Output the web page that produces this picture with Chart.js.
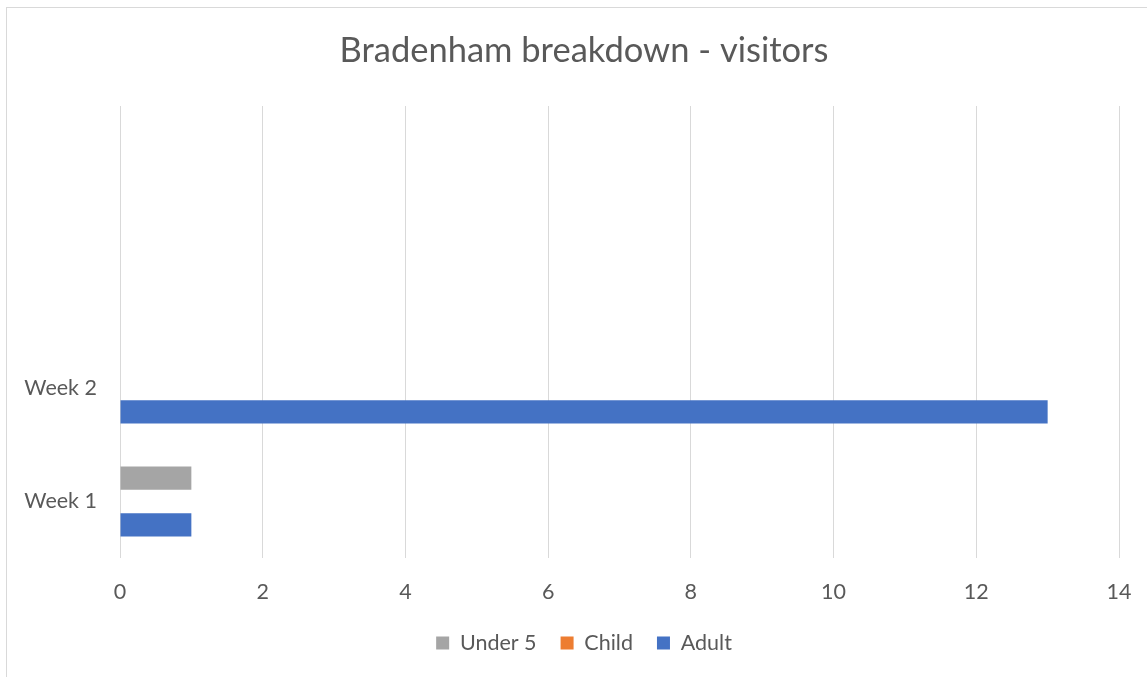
<!DOCTYPE html>
<html>
<head>
<meta charset="utf-8">
<script src="https://cdn.jsdelivr.net/npm/chart.js@4"></script>
<style>
  html, body { margin: 0; padding: 0; background: #fff; }
  #wrap { position: relative; width: 1147px; height: 677px; overflow: hidden; }
  #frame { position: absolute; left: 6px; top: 7px; width: 1200px; height: 700px;
           border-left: 1px solid #d9d9d9; border-top: 1px solid #d9d9d9; }
  canvas { position: absolute; left: 0; top: 0; }
</style>
</head>
<body>
<div id="wrap">
  <div id="frame"></div>
  <canvas id="visitorsChart" width="1168" height="677"></canvas>
</div>
<script>
// data
const weeks = ['Week 1', 'Week 2', '', ''];
const under5 = [1, 0, null, null];
const child = [0, 0, null, null];
const adult = [1, 13, null, null];
const xTicks = [0, 2, 4, 6, 8, 10, 12, 14];

const TEXT = '#595959';
const FONT = 'Lato, "Open Sans", sans-serif';

const data = {
    labels: weeks,
    datasets: [
        { label: 'Under 5', data: under5, backgroundColor: '#a5a5a5' },
        { label: 'Child', data: child, backgroundColor: '#ed7d31' },
        { label: 'Adult', data: adult, backgroundColor: '#4472c4' }
    ]
};

const config = {
    type: 'bar',
    data: data,
    options: {
        indexAxis: 'y',
        responsive: false,
        animation: false,
        datasets: {
            bar: {
                categoryPercentage: 0.62,
                barPercentage: 1.0,
                borderWidth: 0
            }
        },
        layout: {
            padding: { left: 0, right: 0, top: 0, bottom: 13.25 }
        },
        scales: {
            x: {
                min: xTicks[0],
                max: xTicks[xTicks.length - 1],
                afterBuildTicks: (scale) => {
                    scale.ticks = xTicks.map(v => ({ value: v }));
                },
                afterFit: (scale) => { scale.height = 50.25; },
                grid: { color: '#d9d9d9', lineWidth: 1, drawTicks: false },
                border: { display: false },
                ticks: {
                    padding: 21,
                    color: TEXT,
                    font: { family: FONT, size: 21.5 }
                }
            },
            y: {
                reverse: true,
                afterFit: (scale) => { scale.width = 120; },
                grid: { display: false, drawTicks: false },
                border: { display: false },
                ticks: {
                    padding: 23,
                    color: TEXT,
                    font: { family: FONT, size: 21.5 }
                }
            },
            // empty right-hand spacer so the plot ends where the reference does
            yRight: {
                type: 'linear',
                position: 'right',
                afterFit: (scale) => { scale.width = 49; },
                grid: { display: false, drawTicks: false },
                border: { display: false },
                ticks: { display: false }
            }
        },
        plugins: {
            title: {
                display: true,
                text: 'Bradenham breakdown - visitors',
                color: TEXT,
                font: { family: FONT, size: 34.5, weight: 'normal' },
                padding: { top: 30, bottom: 34.6 }
            },
            legend: {
                position: 'bottom',
                labels: {
                    color: TEXT,
                    font: { family: FONT, size: 21.5 },
                    boxWidth: 13,
                    boxHeight: 13,
                    padding: 24
                }
            },
            tooltip: { enabled: false }
        }
    }
};

new Chart(document.getElementById('visitorsChart').getContext('2d'), config);
</script>
</body>
</html>
